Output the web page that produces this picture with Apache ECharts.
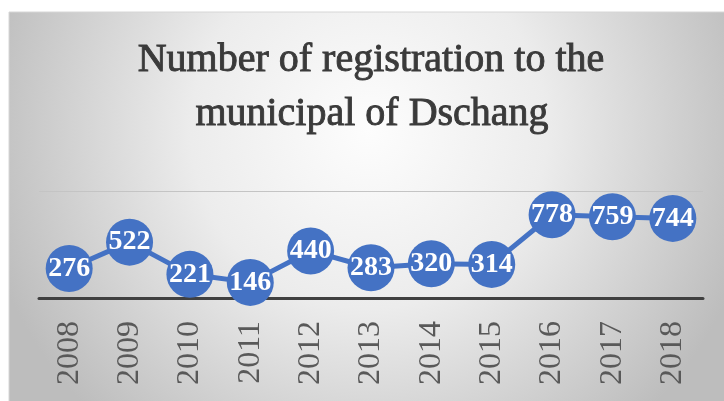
<!DOCTYPE html>
<html>
<head>
<meta charset="utf-8">
<style>html,body{margin:0;padding:0;background:#fff;}#chart{width:724px;height:401px;}</style>
<script src="https://cdn.jsdelivr.net/npm/echarts@6/dist/echarts.min.js"></script>
</head>
<body>
<div id="chart"></div>
<script>
const titleLines = ['Number of registration to the', 'municipal of Dschang'];
const years = ['2008', '2009', '2010', '2011', '2012', '2013', '2014', '2015', '2016', '2017', '2018'];
const registrations = [276, 522, 221, 146, 440, 283, 320, 314, 778, 759, 744];
const yMin = 0;
const yMax = 1000;
const yInterval = 1000;

const chart = echarts.init(document.getElementById('chart'), null, { renderer: 'canvas' });
const serif = '"Liberation Serif", "Times New Roman", serif';

chart.setOption({
  animation: false,
  backgroundColor: '#ffffff',
  graphic: [
    {
      type: 'rect', z: -100, silent: true,
      shape: { x: 9, y: 12, width: 720, height: 395 },
      style: {
        fill: new echarts.graphic.RadialGradient(0.5, 0.3, 1.0, [
          { offset: 0, color: '#fdfdfd' },
          { offset: 0.45, color: '#ececec' },
          { offset: 1, color: '#bdbdbd' }
        ]),
        stroke: '#d6d6d6', lineWidth: 1
      }
    },
    {
      type: 'text', z: 10, silent: true, x: 371, y: 60,
      style: { text: titleLines[0], font: '40px ' + serif, fill: '#3a3a3a', stroke: '#3a3a3a', lineWidth: 0.9, align: 'center', verticalAlign: 'middle' }
    },
    {
      type: 'text', z: 10, silent: true, x: 372, y: 114,
      style: { text: titleLines[1], font: '40px ' + serif, fill: '#3a3a3a', stroke: '#3a3a3a', lineWidth: 0.9, align: 'center', verticalAlign: 'middle' }
    }
  ],
  grid: { left: 39, right: 21, top: 191, bottom: 103, containLabel: false },
  xAxis: {
    type: 'category',
    data: years,
    boundaryGap: true,
    axisLine: { show: true, lineStyle: { color: '#404040', width: 3 } },
    axisTick: { show: false },
    axisLabel: { rotate: 90, margin: 23, fontFamily: serif, fontSize: 32, color: '#595959' },
    splitLine: { show: false }
  },
  yAxis: {
    type: 'value',
    min: yMin, max: yMax, interval: yInterval,
    axisLine: { show: false },
    axisTick: { show: false },
    axisLabel: { show: false },
    splitLine: { show: true, lineStyle: { color: '#c4c4c4', width: 1 } }
  },
  series: [{
    type: 'line',
    data: registrations,
    symbol: 'circle',
    symbolSize: 47,
    lineStyle: { color: '#4472C4', width: 5 },
    itemStyle: { color: '#4472C4' },
    label: {
      show: true, position: 'inside',
      fontFamily: serif, fontWeight: 'bold', fontSize: 28, color: '#ffffff'
    },
    z: 5
  }]
});
</script>
</body>
</html>
